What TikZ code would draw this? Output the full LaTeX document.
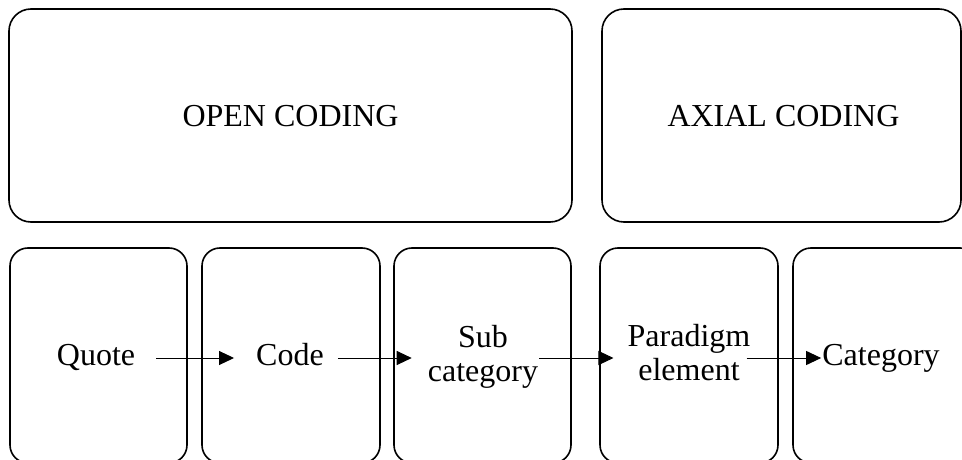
\documentclass[tikz,border=0pt]{standalone}
\usepackage{fontspec}
\setmainfont{Liberation Serif}
\usetikzlibrary{arrows.meta}

\begin{document}
\begin{tikzpicture}[x=1pt, y=-1pt,
		box/.style={draw, line width=1.6pt, rounded corners=#1},
		lbl/.style={inner sep=0pt, font=\fontsize{32}{34}\selectfont, align=center},
		arr/.style={-{Triangle[length=15pt, width=14pt]}, line width=1pt}]
	
	% Рамка рисунка
	\useasboundingbox (0,0) rectangle (962,460);
	\clip (0,0) rectangle (962,460);
	
	% Верхние блоки
	\draw[box=22pt] (9,9) rectangle (572,222);
	\draw[box=22pt] (602,9) rectangle (961,222);
	\node[lbl] (open) at (290.5,116) {OPEN CODING};
	\node[lbl] (axial) at (783.5,116) {AXIAL CODING};
	
	% Нижние блоки
	\draw[box=18pt] (10,248) rectangle (187,463);
	\draw[box=18pt] (202,248) rectangle (380,463);
	\draw[box=18pt] (394,248) rectangle (571,463);
	\draw[box=18pt] (600,248) rectangle (778,463);
	\draw[box=18pt] (793,248) rectangle (978,463);
	
	% Подписи
	\node[lbl, anchor=base] (quote) at (96,365) {Quote};
	\node[lbl, anchor=base] (code) at (290,365) {Code};
	\node[lbl] (sub) at (483,357) {Sub\\category};
	\node[lbl] (para) at (689,353) {Paradigm\\element};
	\node[lbl, anchor=base] (cat) at (881,365) {Category};
	
	% Стрелки
	\coordinate (row) at (0,358);
	\draw[arr, shorten <=21pt, shorten >=22pt] (quote.east |- row) -- (code.west |- row);
	\draw[arr, shorten <=14pt, shorten >=16pt] (code.east |- row) -- (sub.west |- row);
	\draw[arr, shorten <=1pt, shorten >=14pt] (sub.east |- row) -- (para.west |- row);
	\draw[arr, shorten <=-4pt, shorten >=1pt] (para.east |- row) -- (cat.west |- row);
\end{tikzpicture}
\end{document}
